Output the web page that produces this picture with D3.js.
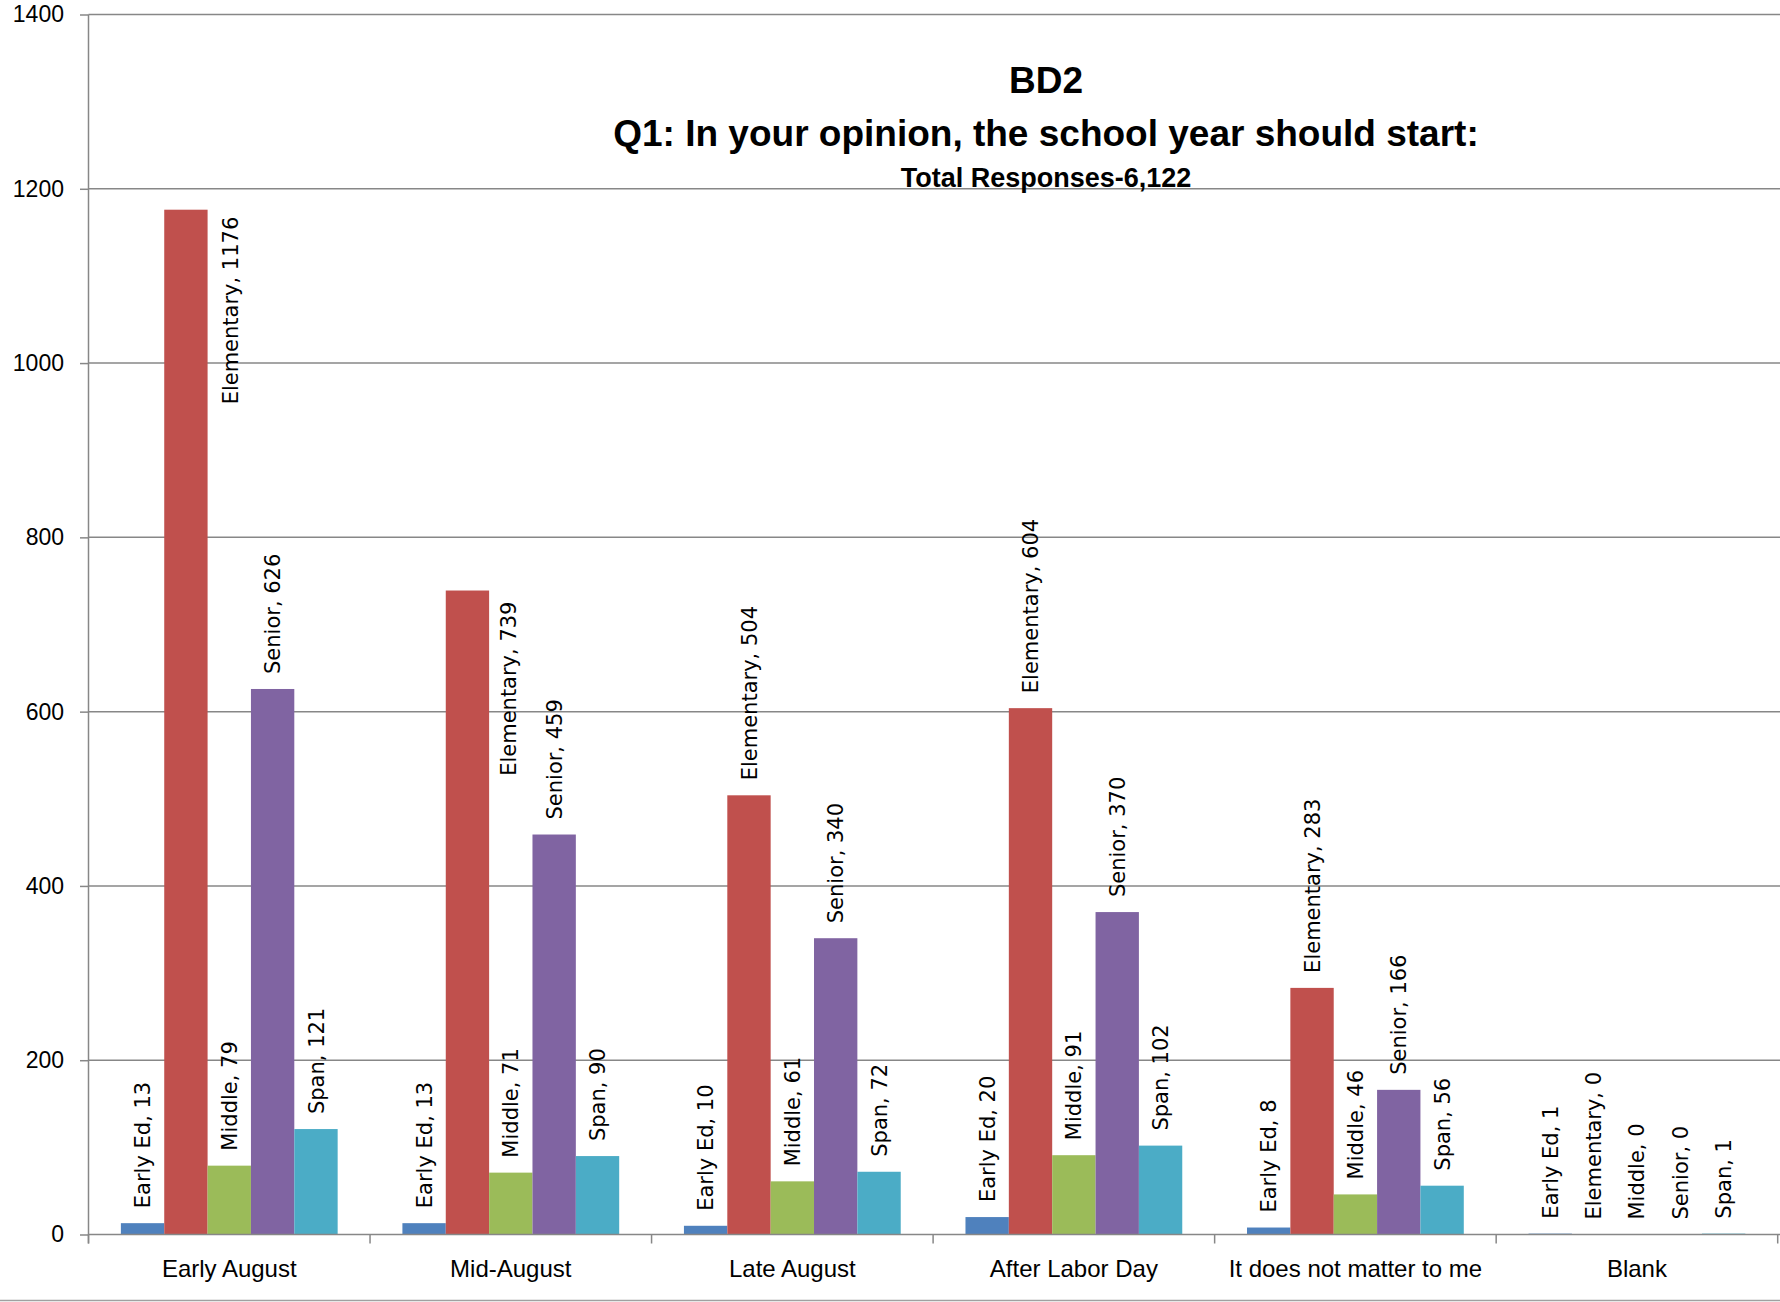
<!DOCTYPE html>
<html>
<head>
<meta charset="utf-8">
<script src="https://cdn.jsdelivr.net/npm/d3@7"></script>
<style>
  html, body { margin: 0; padding: 0; background: #fff; }
  svg { display: block; }
</style>
</head>
<body>
<svg id="chart" width="1780" height="1302"></svg>
<script>
// ---- data ----
const categories = ["Early August", "Mid-August", "Late August", "After Labor Day", "It does not matter to me", "Blank"];
const seriesNames = ["Early Ed", "Elementary", "Middle", "Senior", "Span"];
const earlyEd    = [13, 13, 10, 20, 8, 1];
const elementary = [1176, 739, 504, 604, 283, 0];
const middle     = [79, 71, 61, 91, 46, 0];
const senior     = [626, 459, 340, 370, 166, 0];
const span       = [121, 90, 72, 102, 56, 1];
const yTicks = [0, 200, 400, 600, 800, 1000, 1200, 1400];
const titleLines = ["BD2", "Q1: In your opinion, the school year should start:", "Total Responses-6,122"];

const seriesValues = [earlyEd, elementary, middle, senior, span];
const colors = ["#4F81BD", "#C0504D", "#9BBB59", "#8064A2", "#4BACC6"];

// labels Excel moved beside their bar (layout tweak, not data)
const labelOverrides = {
  "Early August|Elementary": { dx: 45, dy: 7 },
  "Mid-August|Elementary": { dx: 41, dy: 11 }
};

const svg = d3.select("#chart");
const W = 1780, H = 1302;
const plot = { left: 88.5, right: 1777.7, top: 14.5, bottom: 1234.5 };

const x0 = d3.scaleBand().domain(categories).range([plot.left, plot.right]).paddingInner(0.23).paddingOuter(0.115);
const x1 = d3.scaleBand().domain(seriesNames).range([0, x0.bandwidth()]).padding(0);
const y = d3.scaleLinear().domain([0, 1400]).range([plot.bottom, plot.top]);
const step = (plot.right - plot.left) / categories.length;

const gridColor = "#878787";

// gridlines
svg.append("g").selectAll("line").data(yTicks.filter(d => d > 0)).join("line")
  .attr("x1", plot.left).attr("x2", W)
  .attr("y1", d => y(d)).attr("y2", d => y(d))
  .attr("stroke", gridColor).attr("stroke-width", 1.5);

// y axis
const yAxis = svg.append("g").attr("transform", `translate(${plot.left},0)`)
  .call(d3.axisLeft(y).tickValues(yTicks).tickSize(8.5).tickPadding(16).tickFormat(d3.format("d")));
yAxis.select(".domain").remove();
yAxis.selectAll(".tick line").attr("stroke", gridColor).attr("stroke-width", 1.5);
yAxis.selectAll(".tick text").attr("font-family", "'Liberation Sans', Arial, sans-serif")
  .attr("font-size", 23).attr("fill", "#000");
svg.append("line").attr("x1", plot.left).attr("x2", plot.left)
  .attr("y1", plot.top).attr("y2", plot.bottom + 9)
  .attr("stroke", gridColor).attr("stroke-width", 1.5);

// bars
const bars = [];
categories.forEach((c, ci) => {
  seriesNames.forEach((s, si) => {
    bars.push({ cat: c, series: s, si, value: seriesValues[si][ci] });
  });
});

svg.append("g").selectAll("rect").data(bars).join("rect")
  .attr("x", d => x0(d.cat) + x1(d.series))
  .attr("width", x1.bandwidth())
  .attr("y", d => y(d.value))
  .attr("height", d => Math.max(0, y(0) - y(d.value)))
  .attr("fill", d => colors[d.si]);

// x axis (zero line + boundary ticks)
svg.append("line").attr("x1", plot.left).attr("x2", W)
  .attr("y1", y(0)).attr("y2", y(0)).attr("stroke", gridColor).attr("stroke-width", 1.5);
svg.append("g").selectAll("line").data(d3.range(categories.length + 1)).join("line")
  .attr("x1", i => plot.left + i * step).attr("x2", i => plot.left + i * step)
  .attr("y1", y(0)).attr("y2", y(0) + 9)
  .attr("stroke", gridColor).attr("stroke-width", 1.5);
svg.append("g").selectAll("text").data(categories).join("text")
  .attr("x", d => x0(d) + x0.bandwidth() / 2)
  .attr("y", 1277)
  .attr("text-anchor", "middle")
  .attr("font-family", "'Liberation Sans', Arial, sans-serif")
  .attr("font-size", 24).attr("fill", "#000")
  .text(d => d);

// data labels
const gap = 15;
svg.append("g").selectAll("text").data(bars).join("text")
  .each(function(d) {
    const cx = x0(d.cat) + x1(d.series) + x1.bandwidth() / 2;
    const top = y(d.value);
    const ov = labelOverrides[d.cat + "|" + d.series];
    const t = d3.select(this);
    if (ov) {
      t.attr("transform", `translate(${cx + ov.dx},${top + ov.dy}) rotate(-90)`)
        .attr("text-anchor", "end");
    } else {
      t.attr("transform", `translate(${cx},${top - gap}) rotate(-90)`)
        .attr("text-anchor", "start");
    }
  })
  .attr("dy", "0.36em")
  .attr("font-family", "'DejaVu Sans', sans-serif")
  .attr("font-size", 21).attr("fill", "#000")
  .text(d => `${d.series}, ${d.value}`);

// title
const tcx = 1046;
const title = svg.append("g").attr("font-family", "'Liberation Sans', Arial, sans-serif")
  .attr("font-weight", "bold").attr("text-anchor", "middle").attr("fill", "#000");
title.append("text").attr("x", tcx).attr("y", 93).attr("font-size", 37).text(titleLines[0]);
title.append("text").attr("x", tcx).attr("y", 146).attr("font-size", 37).text(titleLines[1]);
title.append("text").attr("x", tcx).attr("y", 187).attr("font-size", 27).text(titleLines[2]);

// bottom border
svg.append("line").attr("x1", 0).attr("x2", W).attr("y1", 1300.5).attr("y2", 1300.5)
  .attr("stroke", "#a0a0a0").attr("stroke-width", 1.5);
</script>
</body>
</html>
